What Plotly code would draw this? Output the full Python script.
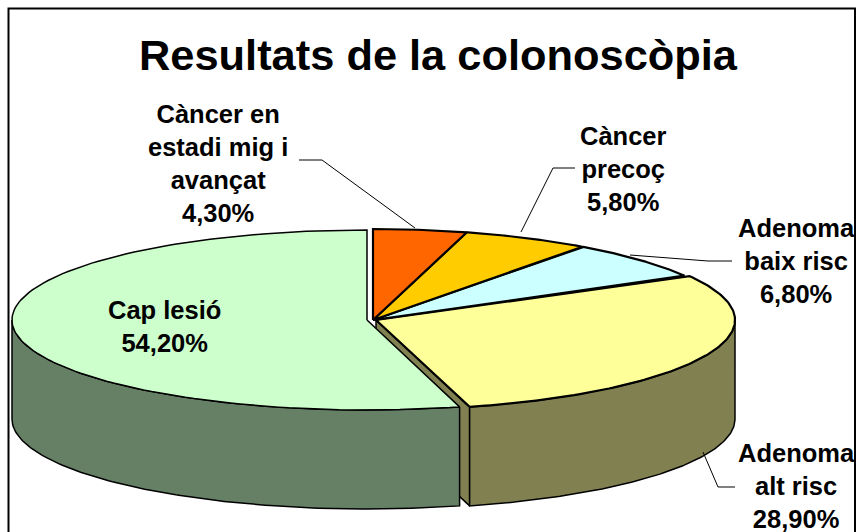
import numpy as np
import plotly.graph_objects as go

# data
categories = ["Càncer en<br>estadi mig i<br>avançat", "Càncer<br>precoç", "Adenoma<br>baix risc",
              "Adenoma<br>alt risc", "Cap lesió"]
values = [4.3, 5.8, 6.8, 28.9, 54.2]
top_colors = ["#FF6600", "#FFCC00", "#CCFFFF", "#FFFF99", "#CCFFCC"]
wall_colors = [None, None, None, "#808050", "#668066"]
title = "Resultats de la colonoscòpia"

# pie geometry in pixels
W, H = 858, 532
DEPTH = 99
slice_geom = [  # centre x, centre y, rx, ry, perspective
    (373, 320, 362, 91, 0.03), (373, 320, 362, 91, 0.03), (373, 320, 362, 91, 0.03),
    (376, 320, 359, 90, 0), (367, 320, 355, 90, 0),
]
label_pos = [(218, 163), (623, 169), (796, 261), (796, 486), (164, 326)]
leaders = [
    ([299, 322, 415], [160, 160, 228]),
    ([575, 553, 521], [168, 168, 232]),
    ([732, 708, 630], [261, 261, 255]),
    ([735, 718, 703], [487, 487, 452]),
]

edges = np.cumsum([0] + values) / 100 * 2 * np.pi


def arc(g, a0, a1, dy=0, n=120):
    cx, cy, rx, ry, k = g
    t = np.linspace(a0, a1, n)
    return cx + rx * np.sin(t) * (1 - k * np.cos(t)), cy - ry * np.cos(t) + dy


fig = go.Figure()


def poly(x, y, fill, lw):
    fig.add_trace(go.Scatter(x=list(x), y=list(y), mode="lines", fill="toself", fillcolor=fill,
                             line=dict(color="black", width=lw), hoverinfo="skip", showlegend=False))


# yellow slice: radial face, round wall, top
g = slice_geom[3]
a0, a1 = edges[3], edges[4]
xe, ye = arc(g, a1, a1, n=1)
poly([g[0], xe[0], xe[0], g[0], g[0]], [g[1], ye[0], ye[0] + DEPTH, g[1] + DEPTH, g[1]], wall_colors[3], 1.5)
xt, yt = arc(g, np.pi / 2, a1)
xb, yb = arc(g, a1, np.pi / 2, dy=DEPTH)
poly(np.r_[xt, xb, xt[0]], np.r_[yt, yb, yt[0]], wall_colors[3], 1.5)

# green slice: round wall
g = slice_geom[4]
a0, a1 = edges[4], edges[5]
xt, yt = arc(g, a0, 1.5 * np.pi)
xb, yb = arc(g, 1.5 * np.pi, a0, dy=DEPTH)
poly(np.r_[xt, xb, xt[0]], np.r_[yt, yb, yt[0]], wall_colors[4], 1.5)

# tops of all slices
for i in [4, 3, 2, 1, 0]:
    g = slice_geom[i]
    xa, ya = arc(g, edges[i], edges[i + 1])
    lw = 1.5 if i == 4 else 2.2
    poly(np.r_[g[0], xa, g[0]], np.r_[g[1], ya, g[1]], top_colors[i], lw)

# leader lines
for lx, ly in leaders:
    fig.add_trace(go.Scatter(x=lx, y=ly, mode="lines", line=dict(color="black", width=1),
                             hoverinfo="skip", showlegend=False))

anns = [dict(x=438, y=55, text=f"<b>{title}</b>", showarrow=False,
             font=dict(size=43.4, color="black", family="Liberation Sans"))]
for name, v, (x, y) in zip(categories, values, label_pos):
    anns.append(dict(x=x, y=y, text=f"<b>{name}<br>{v:.2f}%</b>".replace(".", ","), showarrow=False,
                     align="center", font=dict(size=25.5, color="black", family="Liberation Sans")))

fig.update_layout(
    width=W, height=H, margin=dict(l=0, r=0, t=0, b=0),
    paper_bgcolor="white", plot_bgcolor="white", showlegend=False,
    xaxis=dict(range=[0, W], visible=False, fixedrange=True),
    yaxis=dict(range=[H, 0], visible=False, fixedrange=True),
    annotations=anns,
    shapes=[dict(type="rect", x0=8.5, y0=8.5, x1=855, y1=H + 10, line=dict(color="black", width=2))],
)
fig.write_html("out.html", config=dict(displayModeBar=False), post_script="document.body.style.margin='0';")
